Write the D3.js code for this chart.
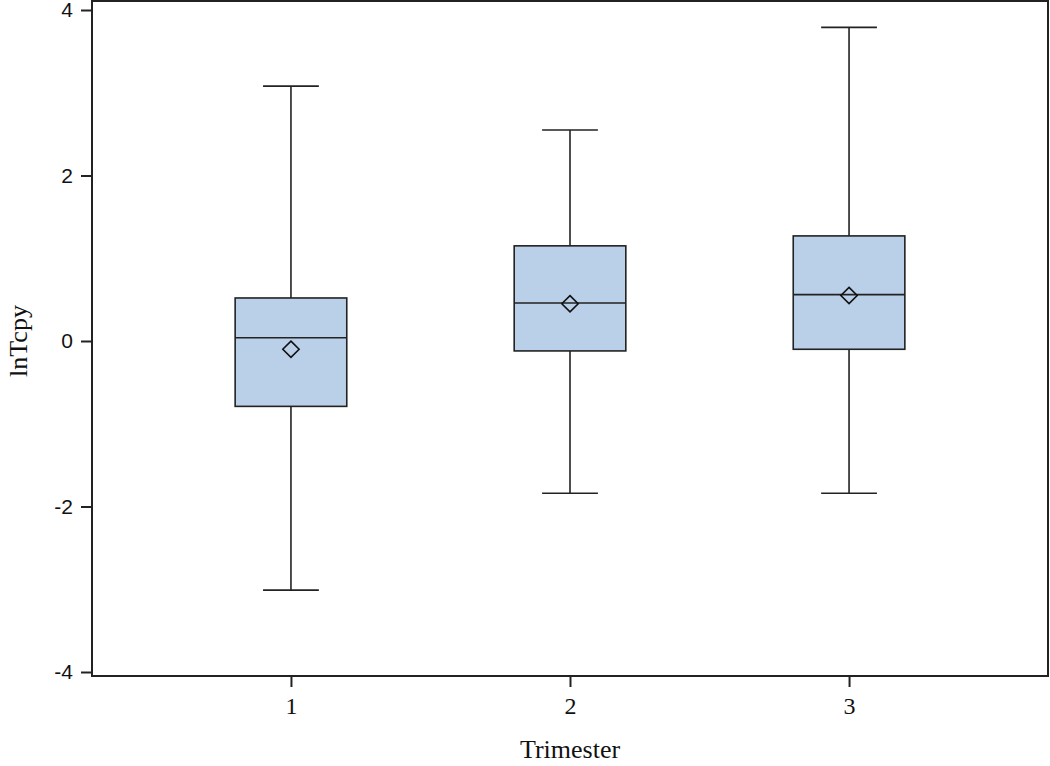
<!DOCTYPE html>
<html>
<head>
<meta charset="utf-8">
<script src="https://cdn.jsdelivr.net/npm/d3@7"></script>
<style>
  body { margin: 0; background: #fff; }
  text { font-family: "Liberation Serif", "Times New Roman", serif; fill: #111; }
</style>
</head>
<body>
<div id="chart-container"></div>
<script>
const width = 1050;
const height = 766;

// data
const trimesters = ["1", "2", "3"];
const whiskerLow = [-3.01, -1.84, -1.84];
const q1 = [-0.79, -0.12, -0.10];
const median = [0.04, 0.46, 0.56];
const q3 = [0.52, 1.15, 1.27];
const whiskerHigh = [3.08, 2.55, 3.79];
const means = [-0.10, 0.45, 0.55];
const yTicks = [-4, -2, 0, 2, 4];

const margin = { left: 92, right: 2, top: 1, bottom: 90 };

const svg = d3
  .select("#chart-container")
  .append("svg")
  .attr("width", width)
  .attr("height", height);

const xScale = d3
  .scalePoint()
  .domain(trimesters)
  .range([margin.left, width - margin.right])
  .padding(0.713);

const yScale = d3.scaleLinear().domain([-4, 4]).range([672, 10]);

const step = xScale.step();
const boxW = step * 0.4;
const capW = boxW / 2;

const data = trimesters.map((t, i) => ({
  t: t,
  lo: whiskerLow[i],
  q1: q1[i],
  med: median[i],
  q3: q3[i],
  hi: whiskerHigh[i],
  mean: means[i],
}));

/**
 * boxes
 */
const g = svg.append("g");
const boxes = g.selectAll("g.box").data(data).enter().append("g").attr("class", "box");

boxes
  .append("line")
  .attr("x1", (d) => xScale(d.t))
  .attr("x2", (d) => xScale(d.t))
  .attr("y1", (d) => yScale(d.hi))
  .attr("y2", (d) => yScale(d.lo))
  .attr("stroke", "#222")
  .attr("stroke-width", 1.6);

boxes
  .selectAll("line.cap")
  .data((d) => [d, d].map((v, k) => ({ t: d.t, v: k ? d.lo : d.hi })))
  .enter()
  .append("line")
  .attr("class", "cap")
  .attr("x1", (d) => xScale(d.t) - capW / 2)
  .attr("x2", (d) => xScale(d.t) + capW / 2)
  .attr("y1", (d) => yScale(d.v))
  .attr("y2", (d) => yScale(d.v))
  .attr("stroke", "#222")
  .attr("stroke-width", 1.6);

boxes
  .append("rect")
  .attr("x", (d) => xScale(d.t) - boxW / 2)
  .attr("width", boxW)
  .attr("y", (d) => yScale(d.q3))
  .attr("height", (d) => yScale(d.q1) - yScale(d.q3))
  .attr("fill", "#b9d0e8")
  .attr("stroke", "#222")
  .attr("stroke-width", 1.6);

boxes
  .append("line")
  .attr("x1", (d) => xScale(d.t) - boxW / 2)
  .attr("x2", (d) => xScale(d.t) + boxW / 2)
  .attr("y1", (d) => yScale(d.med))
  .attr("y2", (d) => yScale(d.med))
  .attr("stroke", "#222")
  .attr("stroke-width", 1.6);

boxes
  .append("path")
  .attr("d", d3.symbol().type(d3.symbolDiamond2).size(170))
  .attr("transform", (d) => "translate(" + xScale(d.t) + "," + yScale(d.mean) + ")")
  .attr("fill", "none")
  .attr("stroke", "#111")
  .attr("stroke-width", 1.6);

/**
 * frame and axes
 */
svg
  .append("rect")
  .attr("x", margin.left)
  .attr("y", 1)
  .attr("width", width - margin.right - margin.left)
  .attr("height", 675)
  .attr("fill", "none")
  .attr("stroke", "#222")
  .attr("stroke-width", 2);

const yAxis = d3
  .axisLeft(yScale)
  .tickValues(yTicks)
  .tickFormat((d) => String(d))
  .tickSize(11)
  .tickPadding(8);
const xAxis = d3.axisBottom(xScale).tickSize(11).tickPadding(10);

svg
  .append("g")
  .attr("id", "y-axis")
  .attr("transform", "translate(" + margin.left + ",0)")
  .call(yAxis)
  .call((a) => a.select(".domain").remove())
  .call((a) => a.selectAll("line").attr("stroke", "#222").attr("stroke-width", 2))
  .call((a) => a.selectAll("text").style("font-size", "21px").style("font-family", "'Liberation Sans', Arial, sans-serif").attr("fill", "#333"));

svg
  .append("g")
  .attr("id", "x-axis")
  .attr("transform", "translate(0,676)")
  .call(xAxis)
  .call((a) => a.select(".domain").remove())
  .call((a) => a.selectAll("line").attr("stroke", "#222").attr("stroke-width", 2))
  .call((a) => a.selectAll("text").style("font-size", "24px").style("font-family", "'Liberation Serif', serif").attr("fill", "#111"));

svg
  .append("text")
  .attr("x", xScale("2"))
  .attr("y", 758)
  .attr("text-anchor", "middle")
  .style("font-size", "26px")
  .text("Trimester");

svg
  .append("text")
  .attr("transform", "translate(27,341) rotate(-90)")
  .attr("text-anchor", "middle")
  .style("font-size", "26px")
  .text("lnTcpy");
</script>
</body>
</html>
